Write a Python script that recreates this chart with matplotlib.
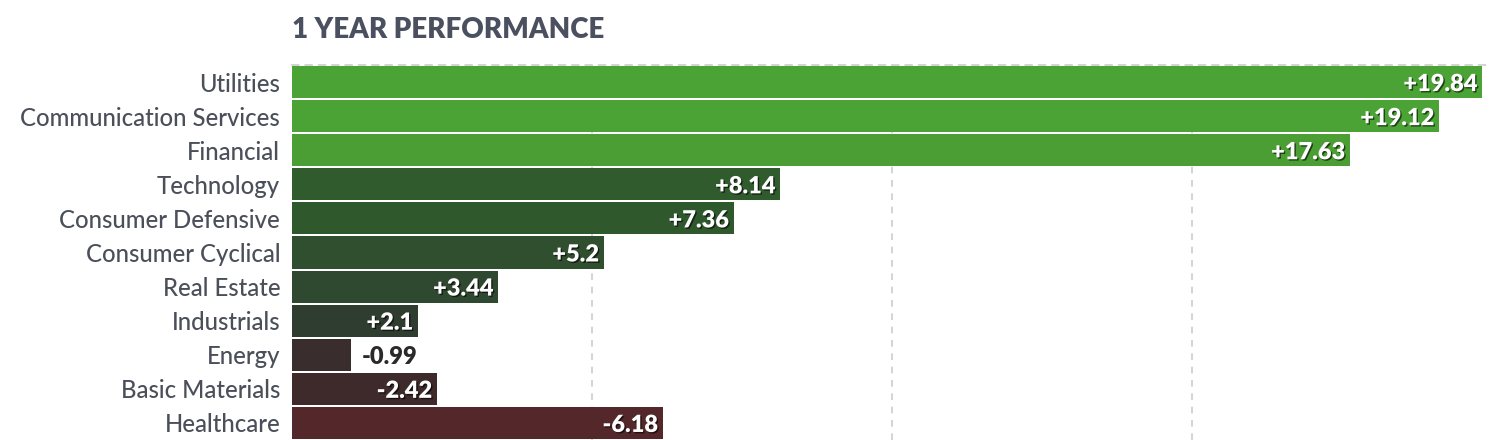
import matplotlib
matplotlib.use("Agg")
import matplotlib.pyplot as plt
import matplotlib.patheffects as pe

sectors = ["Utilities", "Communication Services", "Financial", "Technology",
           "Consumer Defensive", "Consumer Cyclical", "Real Estate", "Industrials",
           "Energy", "Basic Materials", "Healthcare"]
values = [19.84, 19.12, 17.63, 8.14, 7.36, 5.2, 3.44, 2.1, -0.99, -2.42, -6.18]
colors = ["#4aa334", "#4aa334", "#4a9e33", "#2f5b2d", "#2f592d", "#2f4f2e",
          "#2f4830", "#2f3d30", "#3a2d2d", "#3e2a2a", "#54272a"]
value_labels = ["+19.84", "+19.12", "+17.63", "+8.14", "+7.36", "+5.2", "+3.44",
                "+2.1", "-0.99", "-2.42", "-6.18"]
grid_ticks = [5, 10, 15]

plt.rcParams['font.family'] = ['Lato', 'DejaVu Sans']

fig = plt.figure(figsize=(14.9, 4.4), dpi=100)
ax = fig.add_axes([292/1490, 0.0, 1 - 292/1490, 1 - 65/440])

n = len(sectors)
ypos = list(range(n))
mags = [abs(v) for v in values]
ax.barh(ypos, mags, height=0.94, color=colors, zorder=3)
ax.set_ylim(n - 0.5, -0.5)
ax.set_xlim(0, (1490 - 292) / 60)

ax.set_xticks(grid_ticks)
ax.xaxis.grid(True, linestyle=(0, (4, 4)), color="#cccccc", linewidth=1.2, zorder=0)
ax.tick_params(axis="x", length=0, labelbottom=False)
ax.set_yticks(ypos)
ax.set_yticklabels(sectors, fontsize=17.2, color="#4a4f5a", fontweight="medium")
ax.tick_params(axis="y", length=0, pad=8.5)
for s in ["left", "right", "bottom"]:
    ax.spines[s].set_visible(False)
ax.spines["top"].set_linestyle((0, (4, 4)))
ax.spines["top"].set_color("#cccccc")
ax.spines["top"].set_linewidth(1.2)

shadow = [pe.SimplePatchShadow(offset=(1, -1), shadow_rgbFace="black", alpha=0.6), pe.Normal()]
for y, m, lab in zip(ypos, mags, value_labels):
    if m < 1.5:
        ax.text(m + 0.17, y, lab, ha="left", va="center_baseline", fontsize=17,
                fontweight="heavy", color="#2a2a2a", zorder=4)
    else:
        ax.text(m - 0.08, y, lab, ha="right", va="center_baseline", fontsize=17,
                fontweight="heavy", color="white", zorder=4, path_effects=shadow)

fig.text(292/1490, 1 - 30/440, "1 YEAR PERFORMANCE", ha="left", va="center",
         fontsize=20, fontweight="heavy", color="#4b5060")

fig.savefig("out.png", dpi=100)
